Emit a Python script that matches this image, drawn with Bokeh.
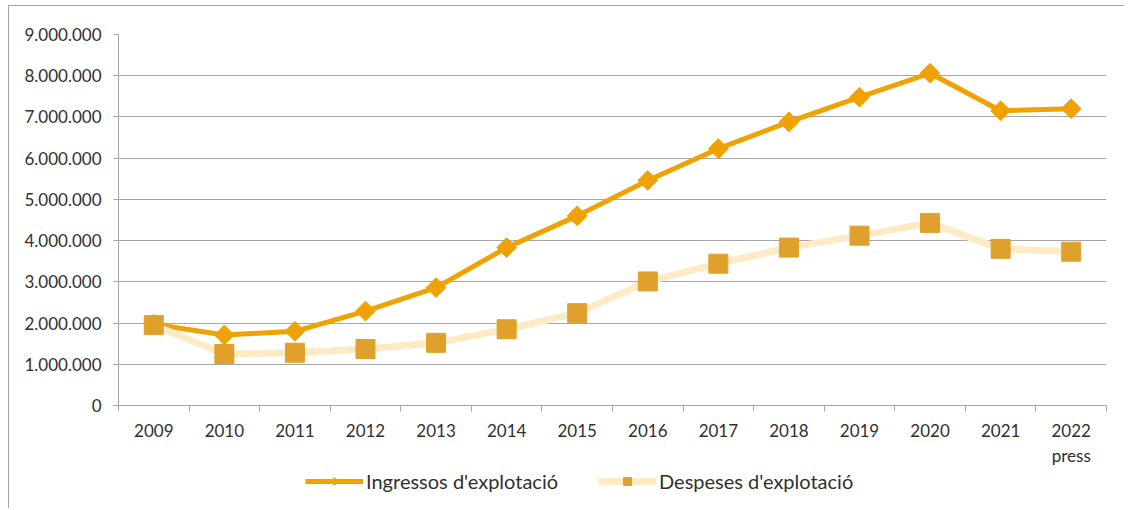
import math
from bokeh.plotting import figure
from bokeh.layouts import column
from bokeh.models import (Range1d, LinearAxis, FixedTicker, Legend, LegendItem)
from bokeh.embed import file_html
from bokeh.resources import INLINE

categories = ["2009", "2010", "2011", "2012", "2013", "2014", "2015",
              "2016", "2017", "2018", "2019", "2020", "2021", "2022"]
category_labels = ["2009", "2010", "2011", "2012", "2013", "2014", "2015",
                   "2016", "2017", "2018", "2019", "2020", "2021", "2022\npress"]
ingressos = [1970000, 1710000, 1800000, 2290000, 2860000, 3830000, 4600000,
             5460000, 6230000, 6880000, 7480000, 8060000, 7150000, 7200000]
despeses = [1950000, 1250000, 1280000, 1370000, 1520000, 1850000, 2240000,
            3010000, 3440000, 3830000, 4120000, 4430000, 3800000, 3730000]
y_ticks = [0, 1000000, 2000000, 3000000, 4000000, 5000000, 6000000,
           7000000, 8000000, 9000000]
y_tick_labels = ["0", "1.000.000", "2.000.000", "3.000.000", "4.000.000",
                 "5.000.000", "6.000.000", "7.000.000", "8.000.000", "9.000.000"]
series_names = ["Ingressos d'explotació", "Despeses d'explotació"]

ORANGE = "#F0A202"
PALE = "#FDEBC6"
GOLD = "#E0A12C"
GRID = "#A6A6A6"
TEXT = "#303030"
FONT = "Lato"

n = len(categories)
xpos = [i + 0.5 for i in range(n)]  # category centres on a 0..n band scale

p = figure(width=1115, height=462,
           x_range=Range1d(0, n), y_range=Range1d(0, 9000000),
           x_axis_type=None, output_backend="svg", toolbar_location=None,
           min_border_left=109, min_border_right=18, min_border_top=28,
           min_border_bottom=60)
p.outline_line_color = None
p.background_fill_color = "white"
p.border_fill_color = "white"

# y axis
yax = p.yaxis[0]
yax.ticker = FixedTicker(ticks=y_ticks)
yax.major_label_overrides = {t: l for t, l in zip(y_ticks, y_tick_labels)}
yax.axis_line_color = GRID
yax.major_tick_line_color = GRID
yax.major_tick_in = 0
yax.major_tick_out = 5
yax.minor_tick_line_color = None
yax.major_label_text_font = FONT
yax.major_label_text_font_size = "17px"
yax.major_label_text_color = TEXT
yax.major_label_standoff = 12
p.ygrid.ticker = FixedTicker(ticks=y_ticks)
p.ygrid.grid_line_color = GRID
p.xgrid.visible = False

# boundary tick axis
bax = LinearAxis(ticker=FixedTicker(ticks=list(range(n + 1))),
                 major_label_text_alpha=0, major_label_text_font_size="1px",
                 major_label_standoff=0,
                 major_tick_in=0, major_tick_out=6,
                 axis_line_color=GRID, major_tick_line_color=GRID,
                 minor_tick_line_color=None)
p.add_layout(bax, "below")

# category label axis
cax = LinearAxis(ticker=FixedTicker(ticks=xpos),
                 major_label_overrides={x: l for x, l in zip(xpos, category_labels)},
                 axis_line_color=None, major_tick_line_color=None,
                 minor_tick_line_color=None,
                 major_tick_in=0, major_tick_out=0,
                 major_label_standoff=8,
                 major_label_text_font=FONT,
                 major_label_text_font_size="17px",
                 major_label_text_color=TEXT)
p.add_layout(cax, "below")

r1 = p.line(xpos, ingressos, line_color=ORANGE, line_width=5)
r1m = p.scatter(xpos, ingressos, marker="square", angle=math.pi / 4,
                size=14, color=ORANGE)
r2 = p.line(xpos, despeses, line_color=PALE, line_width=7)
r2m = p.scatter(xpos, despeses, marker="square", size=19, color=GOLD)

# legend strip below the chart: the same series, drawn outside its view so
# that only their legend keys show
lf = figure(width=1115, height=40, x_range=Range1d(0, 1), y_range=Range1d(0, 1),
            x_axis_type=None, y_axis_type=None, output_backend="svg",
            toolbar_location=None, min_border=0)
lf.outline_line_color = None
lf.xgrid.visible = False
lf.ygrid.visible = False
k1 = lf.line(xpos, ingressos, line_color=ORANGE, line_width=5)
k1m = lf.scatter(xpos, ingressos, marker="diamond", size=12, color=ORANGE)
k2 = lf.line(xpos, despeses, line_color=PALE, line_width=7)
k2m = lf.scatter(xpos, despeses, marker="square", size=10, color=GOLD)

legend = Legend(items=[LegendItem(label=series_names[0], renderers=[k1, k1m]),
                       LegendItem(label=series_names[1], renderers=[k2, k2m])],
                orientation="horizontal", location=(187, 15),
                glyph_width=58, glyph_height=20, label_standoff=3,
                spacing=40, padding=0, margin=0,
                border_line_color=None, background_fill_alpha=0,
                label_text_font=FONT, label_text_font_size="20px",
                label_text_color=TEXT)
lf.add_layout(legend, "center")

layout = column(p, lf, spacing=0, margin=(5, 0, 0, 8),
                styles={"border-left": "1px solid #A6A6A6",
                        "border-top": "1px solid #A6A6A6"})

open("out.html", "w").write(file_html(layout, INLINE))
